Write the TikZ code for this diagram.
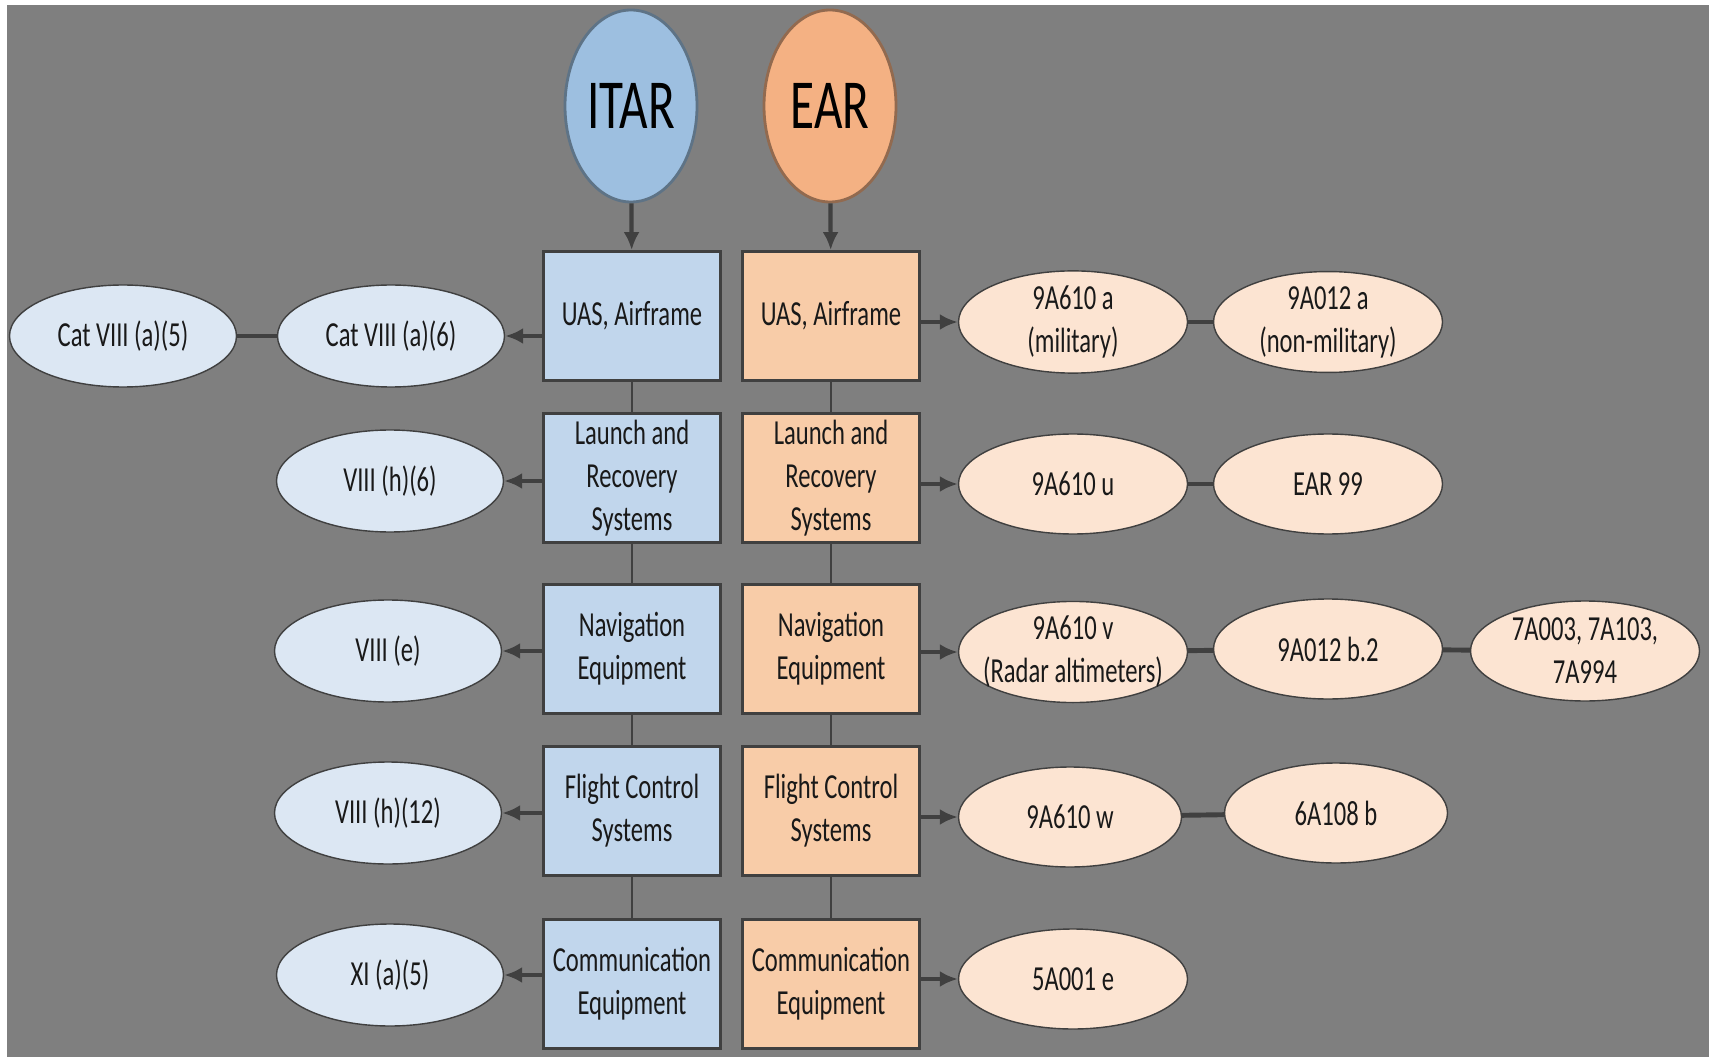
\documentclass[tikz,border=0pt]{standalone}
\usepackage{fontspec}
\setmainfont{Carlito}[FakeStretch=0.7]
\usetikzlibrary{shapes.geometric, arrows.meta}

\definecolor{bggray}{HTML}{7F7F7F}
\definecolor{itarfill}{HTML}{9DBFE0}
\definecolor{earfill}{HTML}{F4B183}
\definecolor{itarbox}{HTML}{C1D6EC}
\definecolor{earbox}{HTML}{F8CCA8}
\definecolor{itaroval}{HTML}{DCE7F3}
\definecolor{earoval}{HTML}{FCE4D2}
\definecolor{linegray}{HTML}{404040}

\tikzset{
  head/.style={ellipse, draw=#1!60!black, thick, minimum width=1.32cm, minimum height=1.92cm, inner sep=0pt, font=\fontsize{20}{24}\selectfont},
  itarcol/.style={draw=black!75, thick, fill=itarbox, minimum width=1.77cm, minimum height=1.29cm, inner sep=0pt, align=center, text=black!90},
  earcol/.style={draw=black!75, thick, fill=earbox, minimum width=1.77cm, minimum height=1.29cm, inner sep=0pt, align=center, text=black!90},
  itarleaf/.style={ellipse, draw=black!75, fill=itaroval, minimum width=2.27cm, minimum height=1.02cm, inner sep=0pt, align=center, text=black!90},
  earleaf/.style={ellipse, draw=black!75, fill=earoval, minimum width=2.29cm, minimum height=1.0cm, inner sep=0pt, align=center, text=black!90},
  arr/.style={draw=linegray, line width=1.2pt, -{Latex[length=1.8mm,width=1.6mm]}},
  link/.style={draw=linegray, line width=1.4pt},
  stem/.style={draw=linegray, line width=0.8pt}
}

\begin{document}
\begin{tikzpicture}[font=\fontsize{10}{12.2}\selectfont]
\useasboundingbox (0,0) rectangle (17.12,-10.57);
\fill[white] (0,0) rectangle (17.12,-10.57);
\fill[bggray] (0.07,-0.05) rectangle (17.09,-10.57);

% heads
\node[head=itarfill, fill=itarfill] (itar) at (6.31,-1.06) {ITAR};
\node[head=earfill, fill=earfill] (ear) at (8.30,-1.06) {EAR};

% ITAR column
\node[itarcol] (airI) at (6.32,-3.16) {UAS, Airframe};
\node[itarcol] (lrsI) at (6.32,-4.78) {Launch and\\Recovery\\Systems};
\node[itarcol] (navI) at (6.32,-6.49) {Navigation\\Equipment};
\node[itarcol] (fcsI) at (6.32,-8.11) {Flight Control\\Systems};
\node[itarcol] (comI) at (6.32,-9.84) {Communication\\Equipment};

% EAR column
\node[earcol] (airE) at (8.31,-3.16) {UAS, Airframe};
\node[earcol] (lrsE) at (8.31,-4.78) {Launch and\\Recovery\\Systems};
\node[earcol] (navE) at (8.31,-6.49) {Navigation\\Equipment};
\node[earcol] (fcsE) at (8.31,-8.11) {Flight Control\\Systems};
\node[earcol] (comE) at (8.31,-9.84) {Communication\\Equipment};

% ITAR categories
\node[itarleaf] (cat5) at (1.23,-3.36) {Cat VIII (a)(5)};
\node[itarleaf] (cat6) at (3.91,-3.36) {Cat VIII (a)(6)};
\node[itarleaf] (h6) at (3.90,-4.81) {VIII (h)(6)};
\node[itarleaf] (e8) at (3.88,-6.51) {VIII (e)};
\node[itarleaf] (h12) at (3.88,-8.13) {VIII (h)(12)};
\node[itarleaf] (xi5) at (3.90,-9.75) {XI (a)(5)};

% EAR numbers
\node[earleaf] (a610a) at (10.73,-3.22) {9A610 a\\(military)};
\node[earleaf] (a012a) at (13.28,-3.22) {9A012 a\\(non-military)};
\node[earleaf] (a610u) at (10.73,-4.84) {9A610 u};
\node[earleaf] (ear99) at (13.28,-4.84) {EAR 99};
\node[earleaf] (a610v) at (10.73,-6.52) {9A610 v\\\makebox[1.2cm]{(Radar altimeters)}};
\node[earleaf] (a012b) at (13.28,-6.49) {9A012 b.2};
\node[earleaf] (a7) at (15.85,-6.51) {\makebox[1.2cm]{7A003, 7A103,}\\7A994};
\node[earleaf, minimum width=2.23cm] (a610w) at (10.70,-8.17) {9A610 w};
\node[earleaf, minimum width=2.23cm] (a108b) at (13.36,-8.13) {6A108 b};
\node[earleaf] (a001e) at (10.73,-9.79) {5A001 e};

% connectors
\draw[arr] (itar) -- (airI);
\draw[arr] (ear) -- (airE);
\foreach \a/\b in {airI/lrsI, lrsI/navI, navI/fcsI, fcsI/comI,
                   airE/lrsE, lrsE/navE, navE/fcsE, fcsE/comE}
  \draw[stem] (\a) -- (\b);
\foreach \b/\e in {airI/cat6, lrsI/h6, navI/e8, fcsI/h12, comI/xi5}
  \draw[arr] (\e.east -| \b.west) -- (\e.east);
\foreach \b/\e in {airE/a610a, lrsE/a610u, navE/a610v, fcsE/a610w, comE/a001e}
  \draw[arr] (\e.west -| \b.east) -- (\e.west);
\foreach \a/\b in {cat6/cat5, a610a/a012a, a610u/ear99, a610v/a012b, a012b/a7, a610w/a108b}
  \draw[link] (\a) -- (\b);
\end{tikzpicture}
\end{document}
